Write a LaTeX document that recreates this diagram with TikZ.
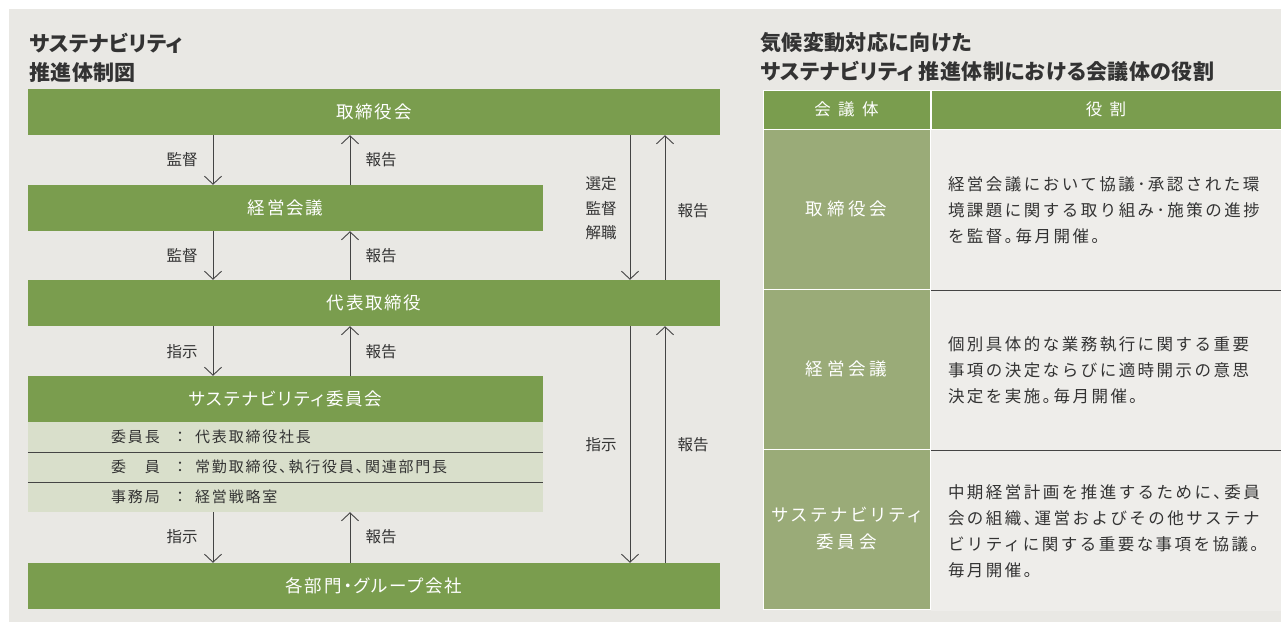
\documentclass[tikz,border=0pt]{standalone}
\usepackage{fontspec}
\setmainfont{Noto Sans CJK JP}[RawFeature=+palt]
\newfontfamily\gridfont{Noto Sans CJK JP}
\usetikzlibrary{arrows.meta}
\definecolor{panelgray}{HTML}{E9E8E4}
\definecolor{bargreen}{HTML}{7A9D4E}
\definecolor{sage}{HTML}{9AAB78}
\definecolor{rowgreen}{HTML}{D9DFCB}
\definecolor{cellgray}{HTML}{EEEDEA}
\definecolor{ink}{HTML}{333333}
\definecolor{rulegray}{HTML}{444444}
\begin{document}
\begin{tikzpicture}[x=1pt, y=-1pt,
    every node/.style={inner sep=0pt, text=ink},
    greenbar/.style={fill=bargreen, text=white, minimum height=46pt,
        font=\fontsize{17.5}{17.5}\selectfont\addfontfeature{LetterSpace=10}},
    memberrow/.style={fill=rowgreen, minimum width=515pt, minimum height=30pt},
    memtext/.style={font=\fontsize{15}{15}\selectfont\addfontfeature{LetterSpace=12}},
    lbl/.style={font=\fontsize{15.5}{24.5}\selectfont, align=center},
    flow/.style={draw=rulegray, line width=0.9pt, -{Straight Barb[length=8pt, width=17pt]}},
    rowrule/.style={draw=rulegray, line width=1.2pt},
    titletext/.style={anchor=west, align=left,
        font=\fontsize{21}{29}\selectfont\bfseries\addfontfeature{LetterSpace=2}},
    headcell/.style={fill=bargreen, draw=white, line width=1pt, text=white, minimum height=39pt,
        font=\fontsize{16.5}{16.5}\selectfont\addfontfeature{LetterSpace=45}},
    namecell/.style={fill=sage, draw=white, line width=1pt, text=white, align=center,
        minimum width=167pt, minimum height=160pt,
        font=\fontsize{17.5}{27}\selectfont\addfontfeature{LetterSpace=22}},
    rolecell/.style={fill=cellgray, minimum width=350pt, minimum height=160pt,
        text width=316pt, align=left,
        font=\gridfont\fontsize{16.5}{26}\selectfont\addfontfeature{LetterSpace=15}}]
    \useasboundingbox (0,0) rectangle (1281,622);
    \fill[white] (0,0) rectangle (1281,622);
    \fill[panelgray] (9,9) rectangle (1281,622);

    % left: organisation chart
    \node[titletext] (chartTitle) at (29,57.5) {サステナビリティ\\推進体制図};
    \node[greenbar, minimum width=692pt] (board) at (374,112) {取締役会};
    \node[greenbar, minimum width=515pt] (mgmt) at (285.5,208) {経営会議};
    \node[greenbar, minimum width=692pt] (ceo) at (374,303) {代表取締役};
    \node[greenbar, minimum width=515pt] (committee) at (285.5,399) {サステナビリティ委員会};
    \node[memberrow] (chair) at (285.5,437) {};
    \node[memberrow] (members) at (285.5,467) {};
    \node[memberrow] (office) at (285.5,497) {};
    \node[greenbar, minimum width=692pt] (units) at (374,586) {各部門・グループ会社};
    \draw[rowrule] (chair.south west) -- (chair.south east);
    \draw[rowrule] (members.south west) -- (members.south east);
    \foreach \r/\k/\v in {chair/委員長/代表取締役社長, members/委　員/常勤取締役、執行役員、関連部門長, office/事務局/経営戦略室} {
        \node[memtext, anchor=west] at (111,0 |- \r) {\k};
        \node[memtext] at (180,0 |- \r) {：};
        \node[memtext, anchor=west] at (195,0 |- \r) {\v};
    }

    % arrows
    \coordinate (dn) at (213,0);
    \coordinate (up) at (350,0);
    \coordinate (dnR) at (630,0);
    \coordinate (upR) at (665,0);
    \foreach \a/\b in {board/mgmt, mgmt/ceo, ceo/committee, office/units} {
        \draw[flow] (dn |- \a.south) -- (dn |- \b.north);
        \draw[flow] (up |- \b.north) -- (up |- \a.south);
    }
    \draw[flow] (dnR |- board.south) -- (dnR |- ceo.north);
    \draw[flow] (upR |- ceo.north) -- (upR |- board.south);
    \draw[flow] (dnR |- ceo.south) -- (dnR |- units.north);
    \draw[flow] (upR |- units.north) -- (upR |- ceo.south);
    \foreach \y/\t in {160/監督, 256/監督, 352/指示, 537/指示} \node[lbl] at (182,\y) {\t};
    \foreach \y in {160, 256, 352, 537} \node[lbl] at (381,\y) {報告};
    \node[lbl] at (601,208.5) {選定\\監督\\解職};
    \node[lbl] at (693,211) {報告};
    \node[lbl] at (601,445) {指示};
    \node[lbl] at (693,445) {報告};

    % right: table of meeting bodies
    \node[titletext] (tableTitle) at (760,57.5) {気候変動対応に向けた\\サステナビリティ\hspace{5pt}推進体制における会議体の役割};
    \node[headcell, minimum width=167pt] (headBody) at (846.5,109.5) {会議体};
    \node[headcell, minimum width=350pt] (headRole) at (1106,109.5) {役割};
    \node[namecell] (nameBoard) at (846.5,209) {取締役会};
    \node[namecell] (nameMgmt) at (846.5,369) {経営会議};
    \node[namecell] (nameComm) at (846.5,529) {サステナビリティ\\委員会};
    \node[rolecell] (roleBoard) at (1106,210) {経営会議において協議･承認された環\\境課題に関する取り組み･施策の進捗\\を監督｡毎月開催｡};
    \node[rolecell] (roleMgmt) at (1106,370) {個別具体的な業務執行に関する重要\\事項の決定ならびに適時開示の意思\\決定を実施｡毎月開催｡};
    \node[rolecell] (roleComm) at (1106,531) {中期経営計画を推進するために､委員\\会の組織､運営およびその他サステナ\\ビリティに関する重要な事項を協議｡\\毎月開催｡};
    \draw[rowrule] (roleBoard.south west) -- (roleBoard.south east);
    \draw[rowrule] (roleMgmt.south west) -- (roleMgmt.south east);
\end{tikzpicture}
\end{document}
